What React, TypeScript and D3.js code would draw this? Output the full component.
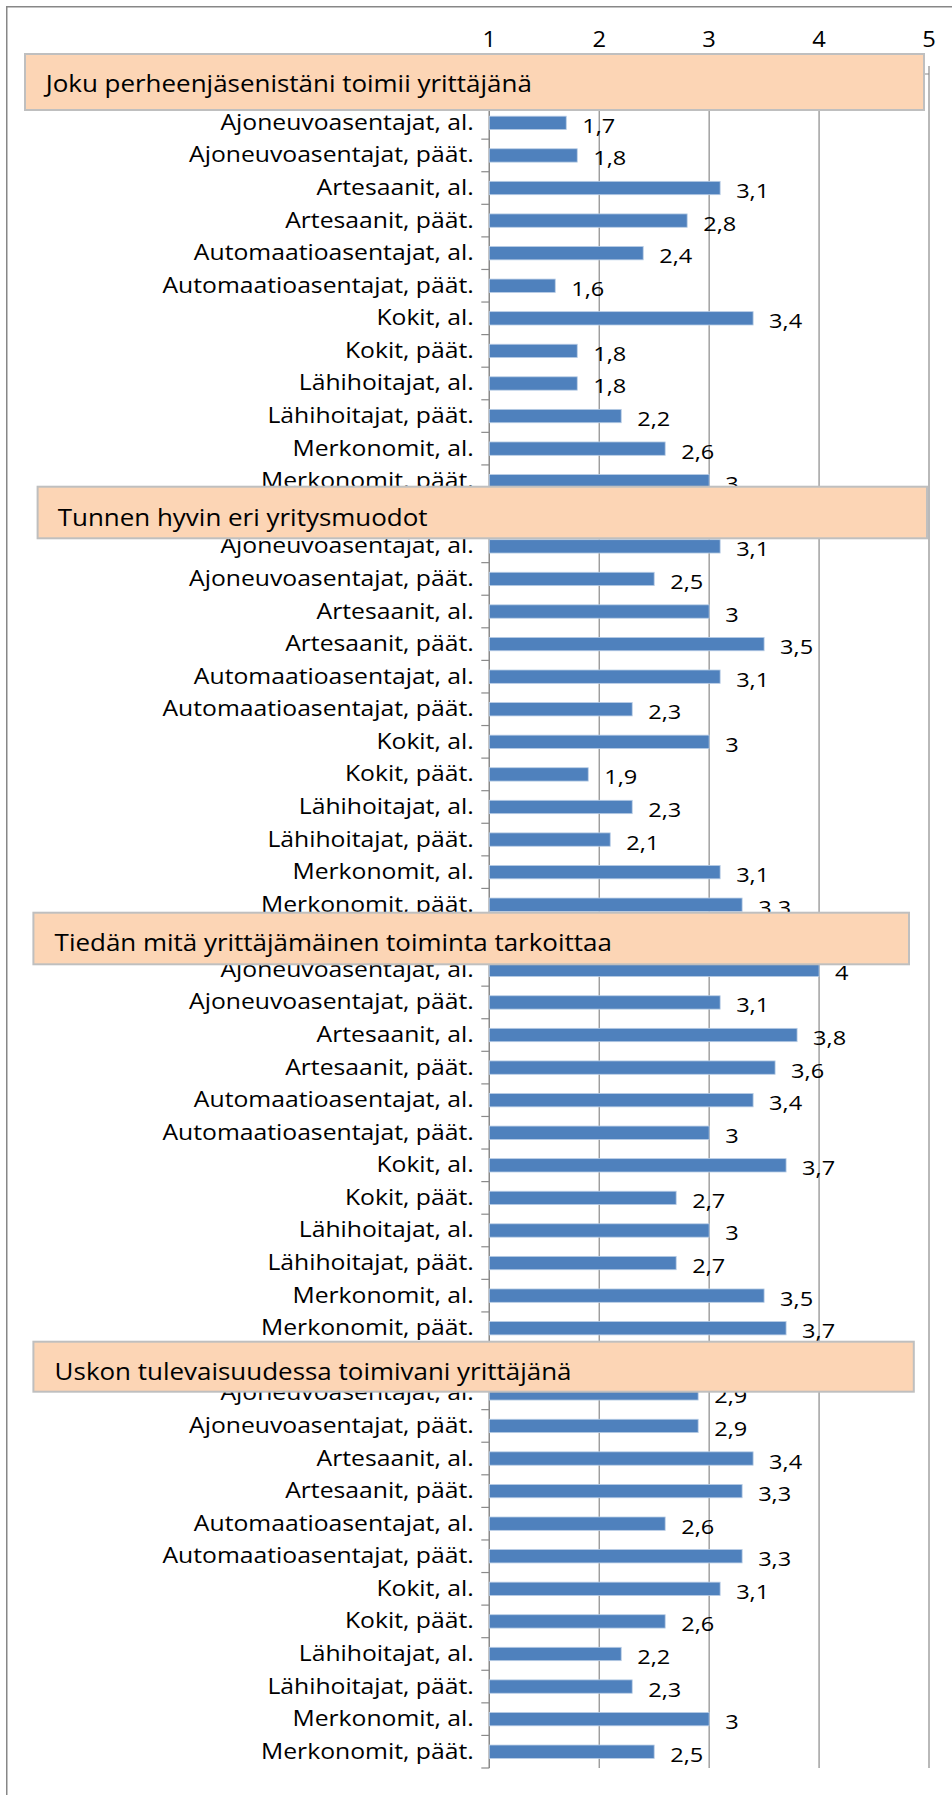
import React from "react";
import * as d3 from "d3";

const titles = [
  "Joku perheenjäsenistäni toimii yrittäjänä",
  "Tunnen hyvin eri yritysmuodot",
  "Tiedän mitä yrittäjämäinen toiminta tarkoittaa",
  "Uskon tulevaisuudessa toimivani yrittäjänä",
];

const groups = [
  "Ajoneuvoasentajat, al.",
  "Ajoneuvoasentajat, päät.",
  "Artesaanit, al.",
  "Artesaanit, päät.",
  "Automaatioasentajat, al.",
  "Automaatioasentajat, päät.",
  "Kokit, al.",
  "Kokit, päät.",
  "Lähihoitajat, al.",
  "Lähihoitajat, päät.",
  "Merkonomit, al.",
  "Merkonomit, päät.",
];

const jokuValues = [1.7, 1.8, 3.1, 2.8, 2.4, 1.6, 3.4, 1.8, 1.8, 2.2, 2.6, 3];
const tunnenValues = [3.1, 2.5, 3, 3.5, 3.1, 2.3, 3, 1.9, 2.3, 2.1, 3.1, 3.3];
const tiedanValues = [4, 3.1, 3.8, 3.6, 3.4, 3, 3.7, 2.7, 3, 2.7, 3.5, 3.7];
const uskonValues = [2.9, 2.9, 3.4, 3.3, 2.6, 3.3, 3.1, 2.6, 2.2, 2.3, 3, 2.5];

const valueTicks = [1, 2, 3, 4, 5];

const sectionValues = [jokuValues, tunnenValues, tiedanValues, uskonValues];

// layout
const W = 952;
const H = 1795;
const plotLeft = 489.3;
const plotRight = 929;
const plotTop = 74;
const plotBottom = 1768;
const FONT = "'Open Sans', 'Noto Sans', sans-serif";

const boxLayout = [
  { x: 25, y: 54, w: 899, h: 56, tx: 45.7, ty: 91.7 },
  { x: 37.6, y: 486.7, w: 889.4, h: 51.6, tx: 57.7, ty: 526 },
  { x: 33.4, y: 912.7, w: 875.6, h: 51.6, tx: 54.6, ty: 950.7 },
  { x: 33.4, y: 1341.7, w: 880.4, h: 50, tx: 54.6, ty: 1380 },
];

type Row = { key: string; label: string; value: number | null };

const rows: Row[] = [];
sectionValues.forEach((vals, s) => {
  rows.push({ key: `blank-${s}`, label: "", value: null });
  groups.forEach((g, i) => {
    rows.push({ key: `${s}-${i}`, label: g, value: vals[i] });
  });
});

const fmt = (v: number) => String(v).replace(".", ",");

export default function App() {
  const x = d3.scaleLinear().domain([1, 5]).range([plotLeft, plotRight]);
  const y = d3
    .scaleBand<string>()
    .domain(rows.map((r) => r.key))
    .range([plotTop, plotBottom])
    .paddingInner(0.59)
    .paddingOuter(0.295);
  const boundary = d3.scaleLinear().domain([0, rows.length]).range([plotTop, plotBottom]);
  const boundaries = d3.range(rows.length + 1);

  return (
    <div style={{ position: "absolute", left: 0, top: 0, width: W, height: H, overflow: "hidden", background: "#fff" }}>
      <svg width={W} height={H} style={{ display: "block" }} fontFamily={FONT}>
        <rect x={0} y={0} width={W} height={H} fill="#fff" />
        {/* outer frame */}
        <rect x={6.75} y={6.75} width={W + 50} height={H + 50} fill="none" stroke="#878787" strokeWidth={1.5} />

        {/* value gridlines + top axis ticks */}
        {valueTicks.map((t) => (
          <g key={`g${t}`}>
            <line x1={x(t)} x2={x(t)} y1={plotTop - 8} y2={plotBottom} stroke="#8a8a8a" strokeWidth={1.2} />
            <text
              transform={`translate(${x(t)},46.7) scale(1.13,1)`}
              textAnchor="middle"
              fontSize={21}
              fill="#000"
            >
              {t}
            </text>
          </g>
        ))}
        {/* top axis line */}
        <line x1={plotLeft} x2={plotRight} y1={plotTop} y2={plotTop} stroke="#8a8a8a" strokeWidth={1.2} />
        {/* category axis */}
        <line x1={plotLeft} x2={plotLeft} y1={plotTop} y2={plotBottom} stroke="#8a8a8a" strokeWidth={1.2} />
        {boundaries.map((b) => (
          <line
            key={`t${b}`}
            x1={plotLeft - 8}
            x2={plotLeft}
            y1={boundary(b)}
            y2={boundary(b)}
            stroke="#8a8a8a"
            strokeWidth={1.2}
          />
        ))}

        {/* bars, labels */}
        {rows.map((r) => {
          const yy = y(r.key)!;
          const cy = yy + y.bandwidth() / 2;
          return (
            <g key={r.key}>
              {r.label && (
                <text
                  transform={`translate(${plotLeft - 15.6},${cy + 7}) scale(1.15,1)`}
                  textAnchor="end"
                  fontSize={21.5}
                  fill="#000"
                >
                  {r.label}
                </text>
              )}
              {r.value !== null && (
                <>
                  <rect
                    x={x(1)}
                    y={yy}
                    width={x(r.value) - x(1)}
                    height={y.bandwidth()}
                    fill="#4F81BD"
                    stroke="#B9CDE5"
                    strokeWidth={0.8}
                  />
                  <text
                    transform={`translate(${x(r.value) + 16},${cy + 10}) scale(1.15,1)`}
                    fontSize={20.5}
                    fill="#000"
                  >
                    {fmt(r.value)}
                  </text>
                </>
              )}
            </g>
          );
        })}

        {/* header boxes */}
        {titles.map((t, i) => {
          const b = boxLayout[i];
          return (
            <g key={`h${i}`}>
              <rect x={b.x} y={b.y} width={b.w} height={b.h} fill="#FCD5B5" stroke="#BFBFBF" strokeWidth={2} />
              <text transform={`translate(${b.tx},${b.ty}) scale(1.1,1)`} fontSize={23.6} fill="#000">
                {t}
              </text>
            </g>
          );
        })}
      </svg>
    </div>
  );
}
